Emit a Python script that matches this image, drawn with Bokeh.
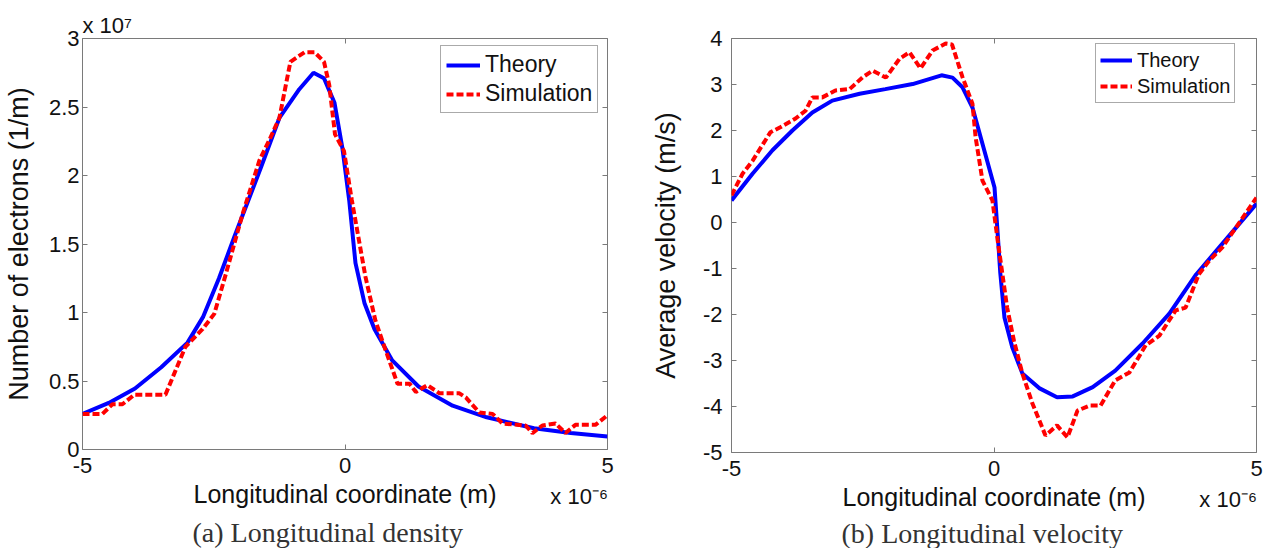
from bokeh.plotting import figure
from bokeh.models import (Range1d, FixedTicker, LinearAxis, Legend, LegendItem, Title,
                          CustomJSTickFormatter)
from bokeh.layouts import row
from bokeh.embed import file_html
from bokeh.resources import INLINE

# ---------------- data (x in units of 1e-6 m) ----------------
dens_theory_x = [-5, -4.5, -4, -3.5, -3, -2.7, -2.4, -2.1, -1.6, -1.25, -0.87, -0.6, -0.4, -0.2,
                 -0.05, 0.08, 0.2, 0.37, 0.56, 0.9, 1.4, 2.05, 2.7, 3.6, 4.3, 5]
dens_theory_y = [0.26, 0.34, 0.445, 0.6, 0.78, 0.97, 1.25, 1.56, 2.06, 2.42, 2.63, 2.75, 2.71, 2.53,
                 2.2, 1.82, 1.36, 1.07, 0.88, 0.65, 0.46, 0.32, 0.235, 0.155, 0.12, 0.095]
dens_sim_x = [-5, -4.62, -4.43, -4.24, -4.01, -3.42, -3.04, -2.71, -2.49, -2.27, -1.95, -1.63, -1.44,
              -1.25, -1.04, -0.77, -0.58, -0.4, -0.3, -0.19, -0.02, 0.13, 0.39, 0.58, 0.75, 1.0, 1.23,
              1.35, 1.57, 1.8, 2.18, 2.3, 2.56, 2.81, 3.0, 3.44, 3.57, 3.76, 4.01, 4.2, 4.39, 4.77, 5.0]
dens_sim_y = [0.26, 0.26, 0.33, 0.33, 0.40, 0.40, 0.75, 0.88, 0.99, 1.28, 1.72, 2.11, 2.26, 2.42, 2.83,
              2.9, 2.9, 2.83, 2.66, 2.3, 2.18, 1.82, 1.26, 0.94, 0.75, 0.48, 0.48, 0.42, 0.47, 0.41,
              0.41, 0.38, 0.27, 0.26, 0.19, 0.175, 0.12, 0.175, 0.19, 0.12, 0.18, 0.18, 0.25]

vel_theory_x = [-5, -4.6, -4.22, -3.84, -3.46, -3.08, -2.56, -2.07, -1.55, -1.0, -0.79, -0.6, -0.41,
                -0.22, 0.01, 0.07, 0.12, 0.2, 0.35, 0.54, 0.86, 1.2, 1.5, 1.88, 2.31, 2.83, 3.34, 3.85,
                4.29, 5.0]
vel_theory_y = [0.48, 1.06, 1.57, 2.0, 2.39, 2.65, 2.8, 2.9, 3.01, 3.2, 3.15, 2.94, 2.5, 1.71, 0.76,
                -0.24, -1.1, -2.07, -2.72, -3.28, -3.6, -3.8, -3.78, -3.58, -3.22, -2.63, -1.98, -1.13,
                -0.54, 0.41]
vel_sim_x = [-5, -4.79, -4.6, -4.26, -4.07, -3.78, -3.59, -3.46, -3.27, -3.02, -2.75, -2.5, -2.31,
             -2.06, -1.8, -1.61, -1.4, -1.17, -0.92, -0.8, -0.6, -0.41, -0.35, -0.22, -0.03, 0.07,
             0.16, 0.25, 0.38, 0.54, 0.73, 0.98, 1.2, 1.4, 1.59, 1.82, 2.03, 2.31, 2.58, 2.89, 3.15,
             3.46, 3.65, 3.9, 4.1, 4.35, 5.0]
vel_sim_y = [0.59, 1.06, 1.34, 1.96, 2.07, 2.26, 2.43, 2.72, 2.72, 2.87, 2.9, 3.16, 3.3, 3.15, 3.56,
             3.7, 3.35, 3.74, 3.89, 3.87, 3.16, 2.58, 1.85, 0.91, 0.48, -0.39, -1.12, -1.85, -2.57,
             -3.28, -3.93, -4.63, -4.41, -4.67, -4.09, -3.98, -3.98, -3.43, -3.26, -2.67, -2.46, -1.91,
             -1.85, -1.13, -0.83, -0.54, 0.54]

x_ticks = [-5, 0, 5]
dens_ticks = [0, 0.5, 1, 1.5, 2, 2.5, 3]
vel_ticks = [-5, -4, -3, -2, -1, 0, 1, 2, 3, 4]
x_exponent = "x 10\u207b\u2076"
dens_exponent = "x 10\u2077"
x_label = "Longitudinal coordinate (m)"
dens_label = "Number of electrons (1/m)"
vel_label = "Average velocity (m/s)"
captions = ["(a)  Longitudinal density", "(b)  Longitudinal velocity"]
series_names = ["Theory", "Simulation"]

SANS = "Liberation Sans"
SERIF = "Liberation Serif"
BOX = "#7a7a7a"
TXT = "#111111"
EXP_POS = 4.46   # where the exponent text sits along the x axis (style)

plain_fmt = "return tick.toString()"   # MATLAB-like labels with a plain hyphen minus


def style_axis(ax, ticks, label_size="22px", standoff=5):
    ax.ticker = FixedTicker(ticks=ticks)
    ax.formatter = CustomJSTickFormatter(code=plain_fmt)
    ax.major_tick_in = 5
    ax.major_tick_out = 0
    ax.minor_tick_line_color = None
    ax.axis_line_color = None
    ax.major_tick_line_color = BOX
    ax.major_label_text_font = SANS
    ax.major_label_text_font_size = label_size
    ax.major_label_text_color = TXT
    ax.major_label_standoff = standoff
    ax.axis_label_text_font = SANS
    ax.axis_label_text_font_style = "normal"
    ax.axis_label_text_color = TXT


def blank_axis(ticks):
    ax = LinearAxis()
    style_axis(ax, ticks, label_size="1px", standoff=0)
    ax.formatter = CustomJSTickFormatter(code="return ''")
    return ax


def make_panel(xs_t, ys_t, xs_s, ys_s, yr, yticks, ylabel, left, right, bottom, ystand, ylab_stand,
               legend_loc, legend_font, lab_h, pad, glyph_w, frame_h, caption, cap_standoff,
               top_exp=None):
    p = figure(frame_width=525, frame_height=frame_h, output_backend="svg", toolbar_location=None,
               x_range=Range1d(-5, 5), y_range=Range1d(*yr),
               min_border_left=left, min_border_right=right, min_border_top=38,
               min_border_bottom=bottom)
    p.background_fill_color = "white"
    p.border_fill_color = "white"
    p.grid.visible = False
    p.outline_line_color = BOX
    p.outline_line_width = 1

    xa = p.xaxis[0]
    style_axis(xa, x_ticks, standoff=8)
    xa.axis_label = x_label
    xa.axis_label_text_font_size = "25px"
    xa.axis_label_standoff = 4

    ya = p.yaxis[0]
    style_axis(ya, yticks, standoff=ystand)
    ya.axis_label = ylabel
    ya.axis_label_text_font_size = "27px"
    ya.axis_label_standoff = ylab_stand

    p.add_layout(blank_axis(x_ticks), "above")
    p.add_layout(blank_axis(yticks), "right")

    # exponent of the x axis, sitting level with the axis title
    ex = LinearAxis()
    style_axis(ex, [EXP_POS], label_size="22px", standoff=-27)
    ex.major_tick_line_color = None
    ex.formatter = CustomJSTickFormatter(code="return '%s'" % x_exponent)
    p.add_layout(ex, "below")

    p.add_layout(Title(text=caption, align="left", offset=110, standoff=cap_standoff,
                       text_font=SERIF, text_font_size="28px", text_font_style="normal",
                       text_color="#333333"), "below")
    if top_exp is not None:
        p.add_layout(Title(text=top_exp, align="left", offset=0, standoff=2,
                           text_font=SANS, text_font_size="22px", text_font_style="normal",
                           text_color=TXT), "above")

    r1 = p.line(xs_t, ys_t, line_color="#0000ff", line_width=4)
    r2 = p.line(xs_s, ys_s, line_color="#ff0000", line_width=4, line_dash="7 3")

    leg = Legend(items=[LegendItem(label=series_names[0], renderers=[r1]),
                        LegendItem(label=series_names[1], renderers=[r2])],
                 location=legend_loc, margin=0, padding=pad, spacing=2,
                 label_text_font=SANS, label_text_font_size=legend_font, label_text_color=TXT,
                 label_height=lab_h, glyph_height=lab_h, glyph_width=glyph_w, label_standoff=5,
                 border_line_color="#555555", border_line_width=1, background_fill_alpha=1.0)
    p.add_layout(leg, "center")
    return p


p1 = make_panel(dens_theory_x, dens_theory_y, dens_sim_x, dens_sim_y, (0, 3), dens_ticks,
                dens_label, 80, 25, 99, 3, 12, (358, 336), "23px", 26, 5, 34, 411,
                captions[0], 7, top_exp=dens_exponent)
p2 = make_panel(vel_theory_x, vel_theory_y, vel_sim_x, vel_sim_y, (-5, 4), vel_ticks,
                vel_label, 99, 12, 96, 9, 19, (364, 349), "20px", 24, 4, 32, 414,
                captions[1], 3)

layout = row(p1, p2)
open("out.html", "w").write(file_html(layout, INLINE))
